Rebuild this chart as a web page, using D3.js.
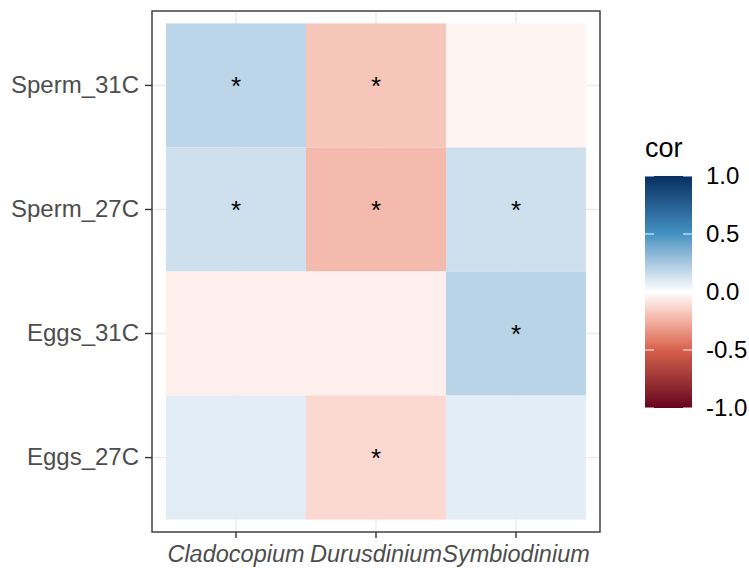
<!DOCTYPE html>
<html>
<head>
<meta charset="utf-8">
<script src="https://cdn.jsdelivr.net/npm/d3@7"></script>
<style>
  html, body { margin: 0; padding: 0; background: #ffffff; }
  svg { display: block; font-family: "Liberation Sans", Arial, Helvetica, sans-serif; }
</style>
</head>
<body>
<svg id="chart" width="749" height="568"></svg>
<script>
// ---- data ----
const symbionts = ["Cladocopium", "Durusdinium", "Symbiodinium"];
const samples = ["Sperm_31C", "Sperm_27C", "Eggs_31C", "Eggs_27C"]; // top to bottom
const corCladocopium = [0.19, 0.14, -0.05, 0.085];
const corDurusdinium = [-0.18, -0.22, -0.05, -0.12];
const corSymbiodinium = [-0.03, 0.14, 0.2, 0.08];
const sigCladocopium = [true, true, false, false];
const sigDurusdinium = [true, true, false, true];
const sigSymbiodinium = [false, true, true, false];
const legendBreaks = [1.0, 0.5, 0.0, -0.5, -1.0];
const legendTitle = "cor";

const corBySymbiont = { Cladocopium: corCladocopium, Durusdinium: corDurusdinium, Symbiodinium: corSymbiodinium };
const sigBySymbiont = { Cladocopium: sigCladocopium, Durusdinium: sigDurusdinium, Symbiodinium: sigSymbiodinium };
const cells = [];
symbionts.forEach(s => samples.forEach((r, i) => {
  cells.push({ x: s, y: r, value: corBySymbiont[s][i], sig: sigBySymbiont[s][i] });
}));

// ---- layout ----
const svg = d3.select("#chart");
const panel = { left: 152, right: 600, top: 11, bottom: 532 };

const x = d3.scaleBand().domain(symbionts).range([panel.left, panel.right]).paddingInner(0).paddingOuter(0.1);
const y = d3.scaleBand().domain(samples).range([panel.top, panel.bottom]).paddingInner(0).paddingOuter(0.1);

const stops = [-1, -0.5, 0, 0.5, 1];
const stopColours = ["#67001f", "#d6604d", "#ffffff", "#4393c3", "#053061"];
const colour = d3.scaleLinear().domain(stops).range(stopColours).interpolate(d3.interpolateLab);

// panel background
svg.append("rect").attr("x", panel.left).attr("y", panel.top)
  .attr("width", panel.right - panel.left).attr("height", panel.bottom - panel.top)
  .attr("fill", "#ffffff");

// grid lines
const grid = svg.append("g").attr("stroke", "#ebebeb").attr("stroke-width", 1.4);
symbionts.forEach(s => {
  const cx = x(s) + x.bandwidth() / 2;
  grid.append("line").attr("x1", cx).attr("x2", cx).attr("y1", panel.top).attr("y2", panel.bottom);
});
samples.forEach(r => {
  const cy = y(r) + y.bandwidth() / 2;
  grid.append("line").attr("y1", cy).attr("y2", cy).attr("x1", panel.left).attr("x2", panel.right);
});

// tiles
svg.append("g").selectAll("rect").data(cells).join("rect")
  .attr("x", d => x(d.x)).attr("y", d => y(d.y))
  .attr("width", x.bandwidth()).attr("height", y.bandwidth())
  .attr("fill", d => colour(d.value));

// significance stars
svg.append("g").selectAll("text").data(cells.filter(d => d.sig)).join("text")
  .attr("x", d => x(d.x) + x.bandwidth() / 2)
  .attr("y", d => y(d.y) + y.bandwidth() / 2)
  .attr("dy", "0.35em")
  .attr("text-anchor", "middle")
  .attr("font-size", 26)
  .attr("fill", "#000000")
  .text("*");

// panel border
svg.append("rect").attr("x", panel.left).attr("y", panel.top)
  .attr("width", panel.right - panel.left).attr("height", panel.bottom - panel.top)
  .attr("fill", "none").attr("stroke", "#333333").attr("stroke-width", 1.4);

// axes
const xAxis = svg.append("g").attr("transform", `translate(0,${panel.bottom})`)
  .call(d3.axisBottom(x).tickSize(6).tickPadding(7));
xAxis.select(".domain").remove();
xAxis.selectAll(".tick line").attr("stroke", "#333333").attr("stroke-width", 1.4);
xAxis.selectAll(".tick text").attr("font-size", 23.5).attr("font-style", "italic")
  .attr("fill", "#4d4d4d").attr("font-family", "'Liberation Sans', Arial, sans-serif")
  .attr("dy", "0.71em");

const yAxis = svg.append("g").attr("transform", `translate(${panel.left},0)`)
  .call(d3.axisLeft(y).tickSize(7).tickPadding(6));
yAxis.select(".domain").remove();
yAxis.selectAll(".tick line").attr("stroke", "#333333").attr("stroke-width", 1.4);
yAxis.selectAll(".tick text").attr("font-size", 24)
  .attr("fill", "#4d4d4d").attr("font-family", "'Liberation Sans', Arial, sans-serif");

// legend
const leg = { x: 645, w: 47, top: 176, bottom: 408 };
const ly = d3.scaleLinear().domain([-1, 1]).range([leg.bottom, leg.top]);
const defs = svg.append("defs");
const grad = defs.append("linearGradient").attr("id", "corGrad")
  .attr("x1", 0).attr("x2", 0).attr("y1", 1).attr("y2", 0);
grad.selectAll("stop").data(d3.range(0, 41)).join("stop")
  .attr("offset", d => d / 40)
  .attr("stop-color", d => colour(-1 + d / 20));
svg.append("rect").attr("x", leg.x).attr("y", leg.top)
  .attr("width", leg.w).attr("height", leg.bottom - leg.top)
  .attr("fill", "url(#corGrad)");

const legTicks = svg.append("g").attr("stroke", "#ffffff").attr("stroke-width", 1.2).attr("opacity", 0.8);
legendBreaks.forEach(b => {
  const ty = ly(b);
  legTicks.append("line").attr("x1", leg.x).attr("x2", leg.x + 9).attr("y1", ty).attr("y2", ty);
  legTicks.append("line").attr("x1", leg.x + leg.w - 9).attr("x2", leg.x + leg.w).attr("y1", ty).attr("y2", ty);
});

svg.append("g").selectAll("text").data(legendBreaks).join("text")
  .attr("x", 706).attr("y", d => ly(d)).attr("dy", "0.35em")
  .attr("font-size", 24).attr("fill", "#000000")
  .text(d => d3.format(".1f")(d).replace("−", "-"));

svg.append("text").attr("x", 645).attr("y", 157)
  .attr("font-size", 27).attr("fill", "#000000")
  .text(legendTitle);
</script>
</body>
</html>
